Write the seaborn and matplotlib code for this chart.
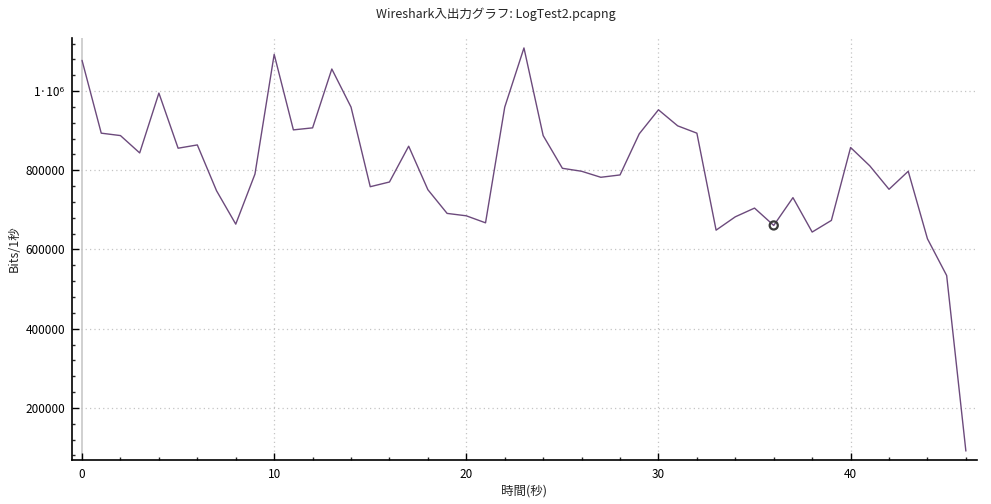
import numpy as np
import pandas as pd
import seaborn as sns
import matplotlib.pyplot as plt
from matplotlib.ticker import MultipleLocator

sns.set_style("white")
plt.rcParams["font.family"] = ["Noto Sans CJK JP", "DejaVu Sans"]

# seconds and bits/second
seconds = list(range(47))
bits_per_sec = [
    1077500, 893700, 887600, 843800, 994900, 855700, 864000, 748300, 664000, 790400,
    1092700, 902000, 907100, 1055700, 959500, 758500, 770400, 860800, 750900, 691100,
    685000, 667300, 959500, 1108900, 887600, 805000, 797500, 782300, 788200, 892000,
    952700, 912200, 893700, 648800, 682500, 704500, 660700, 730900, 644000, 673400,
    857500, 811100, 752000, 797500, 627000, 534200, 91000,
]
marked_second = 36

y_ticks = [200000, 400000, 600000, 800000, 1000000]
y_tick_labels = ["200000", "400000", "600000", "800000", "1·10⁶"]

df = pd.DataFrame({"time": seconds, "bits": bits_per_sec})

fig = plt.figure(figsize=(9.91, 5.04), dpi=100)
ax = fig.add_axes([0.0727, 0.0873, 0.913, 0.8373])

grid_kw = dict(color="#c4c4c4", linewidth=0.9, linestyle=(0, (1, 2.5)), zorder=0)
for v in y_ticks:
    ax.axhline(v, **grid_kw)
for v in [10, 20, 30, 40]:
    ax.axvline(v, **grid_kw)
ax.axvline(0, color="#c8c8c8", linewidth=1.2, zorder=0)

sns.lineplot(data=df, x="time", y="bits", color="#6c4a7c", linewidth=1.0, ax=ax, zorder=3)

mark = df[df["time"] == marked_second]
ax.scatter(mark["time"], mark["bits"], s=34, facecolors="none",
           edgecolors="#3a3a3a", linewidths=1.6, zorder=4)

ax.set_xlim(-0.52, 46.57)
ax.set_ylim(68400, 1134000)
ax.set_xticks([0, 10, 20, 30, 40])
ax.xaxis.set_minor_locator(MultipleLocator(2))
ax.set_yticks(y_ticks)
ax.set_yticklabels(y_tick_labels)
ax.yaxis.set_minor_locator(MultipleLocator(40000))

ax.tick_params(which="major", direction="in", length=5, width=1, labelsize=8.5,
               colors="black", pad=5)
ax.tick_params(which="minor", direction="in", length=2.5, width=1)
ax.tick_params(axis="x", which="both", bottom=True, pad=6)
ax.tick_params(axis="y", which="both", left=True)

for side in ["top", "right"]:
    ax.spines[side].set_visible(False)
for side in ["left", "bottom"]:
    ax.spines[side].set_color("black")
    ax.spines[side].set_linewidth(1.2)

ax.set_xlabel("時間(秒)", fontsize=9, labelpad=2)
ax.set_ylabel("Bits/1秒", fontsize=9, labelpad=3)
fig.suptitle("Wireshark入出力グラフ: LogTest2.pcapng", fontsize=9, y=0.985)

fig.savefig("out.png", dpi=100)
